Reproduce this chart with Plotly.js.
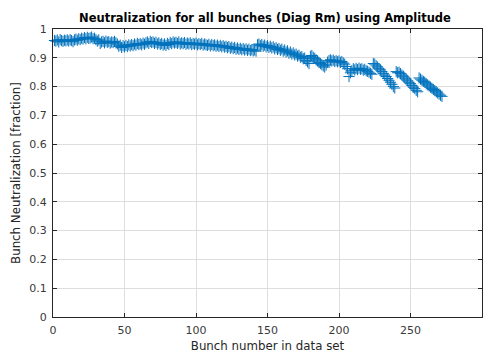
<!DOCTYPE html>
<html>
<head>
<meta charset="utf-8">
<script src="https://cdn.plot.ly/plotly-3.0.1.min.js"></script>
<style>html,body{margin:0;padding:0;background:#fff;}#chart{width:492px;height:353px;}</style>
</head>
<body>
<div id="chart"></div>
<script>
const titleText = "Neutralization for all bunches (Diag Rm) using Amplitude";
const xTitle = "Bunch number in data set";
const yTitle = "Bunch Neutralization [fraction]";
const neutralization = [
0.960,0.958,0.962,0.955,0.963,0.960,0.957,0.961,0.959,0.962,
0.958,0.963,0.960,0.956,0.962,0.965,0.961,0.966,0.963,0.968,
0.965,0.970,0.966,0.971,0.967,0.969,0.972,0.966,0.968,0.963,
0.958,0.962,0.950,0.955,0.957,0.952,0.958,0.954,0.956,0.951,
0.955,0.953,0.957,0.952,0.948,0.940,0.944,0.936,0.942,0.938,
0.943,0.939,0.945,0.941,0.946,0.942,0.948,0.944,0.950,0.946,
0.949,0.945,0.951,0.947,0.952,0.955,0.950,0.957,0.953,0.955,
0.950,0.954,0.948,0.952,0.946,0.950,0.944,0.948,0.943,0.950,
0.946,0.953,0.949,0.955,0.951,0.954,0.950,0.955,0.948,0.952,
0.949,0.953,0.947,0.951,0.948,0.952,0.946,0.950,0.947,0.951,
0.945,0.949,0.946,0.950,0.944,0.948,0.945,0.943,0.947,0.941,
0.946,0.942,0.945,0.940,0.944,0.939,0.943,0.938,0.942,0.937,
0.940,0.935,0.939,0.933,0.937,0.932,0.936,0.930,0.934,0.929,
0.933,0.928,0.932,0.927,0.931,0.926,0.930,0.925,0.928,0.924,
0.927,0.923,0.945,0.948,0.942,0.946,0.940,0.944,0.938,0.942,
0.936,0.940,0.934,0.938,0.931,0.935,0.929,0.932,0.926,0.930,
0.923,0.927,0.920,0.924,0.916,0.920,0.913,0.917,0.910,0.913,
0.906,0.909,0.902,0.904,0.897,0.899,0.891,0.886,0.880,0.905,
0.908,0.902,0.898,0.893,0.889,0.884,0.880,0.876,0.872,0.868,
0.875,0.885,0.890,0.893,0.889,0.892,0.887,0.890,0.886,0.889,
0.884,0.887,0.882,0.878,0.870,0.862,0.835,0.848,0.855,0.862,
0.858,0.863,0.859,0.864,0.860,0.862,0.857,0.860,0.855,0.853,
0.850,0.846,0.843,0.880,0.878,0.872,0.868,0.862,0.858,0.852,
0.846,0.840,0.835,0.828,0.822,0.815,0.808,0.800,0.795,0.852,
0.848,0.850,0.845,0.840,0.836,0.830,0.826,0.820,0.815,0.810,
0.804,0.798,0.793,0.787,0.782,0.830,0.826,0.822,0.818,0.815,
0.810,0.806,0.802,0.798,0.794,0.790,0.786,0.782,0.778,0.774,
0.770,0.766
];
const bunchNumbers = neutralization.map((v, i) => i + 1);
const xTicks = [0, 50, 100, 150, 200, 250, 300];
const yTicks = [0, 0.1, 0.2, 0.3, 0.4, 0.5, 0.6, 0.7, 0.8, 0.9, 1];

const FONT = 'DejaVu Sans, Verdana, sans-serif';
const axisCommon = {
  showline: true, mirror: 'ticks', linecolor: '#262626', linewidth: 1,
  ticks: 'inside', ticklen: 4, tickcolor: '#262626',
  showgrid: true, gridcolor: '#dedede', gridwidth: 1,
  zeroline: false,
  tickfont: {family: FONT, size: 11, color: '#3a3a3a'}
};

Plotly.newPlot('chart', [{
  x: bunchNumbers, y: neutralization, type: 'scatter', mode: 'markers',
  marker: {symbol: 'cross-thin', size: 8, color: '#0072BD', line: {color: '#0072BD', width: 1}},
  cliponaxis: false, hoverinfo: 'none'
}], {
  width: 492, height: 353,
  margin: {l: 53, r: 10, t: 29, b: 36},
  paper_bgcolor: '#ffffff', plot_bgcolor: '#ffffff',
  showlegend: false,
  title: {text: '<b>' + titleText + '</b>', x: 0.5386, xanchor: 'center', y: 0.949, yanchor: 'middle',
          font: {family: FONT, size: 11.5, color: '#000'}},
  xaxis: Object.assign({}, axisCommon, {
    range: [0, 300], tickvals: xTicks, ticktext: xTicks.map(String), ticklabelstandoff: 3,
    title: {text: xTitle, standoff: 5, font: {family: FONT, size: 11.8, color: '#262626'}}
  }),
  yaxis: Object.assign({}, axisCommon, {
    range: [0, 1], tickvals: yTicks, ticktext: yTicks.map(v => String(v)), ticklabelstandoff: 3,
    title: {text: yTitle, standoff: 6, font: {family: FONT, size: 11.8, color: '#262626'}}
  })
}, {staticPlot: true});
</script>
</body>
</html>
